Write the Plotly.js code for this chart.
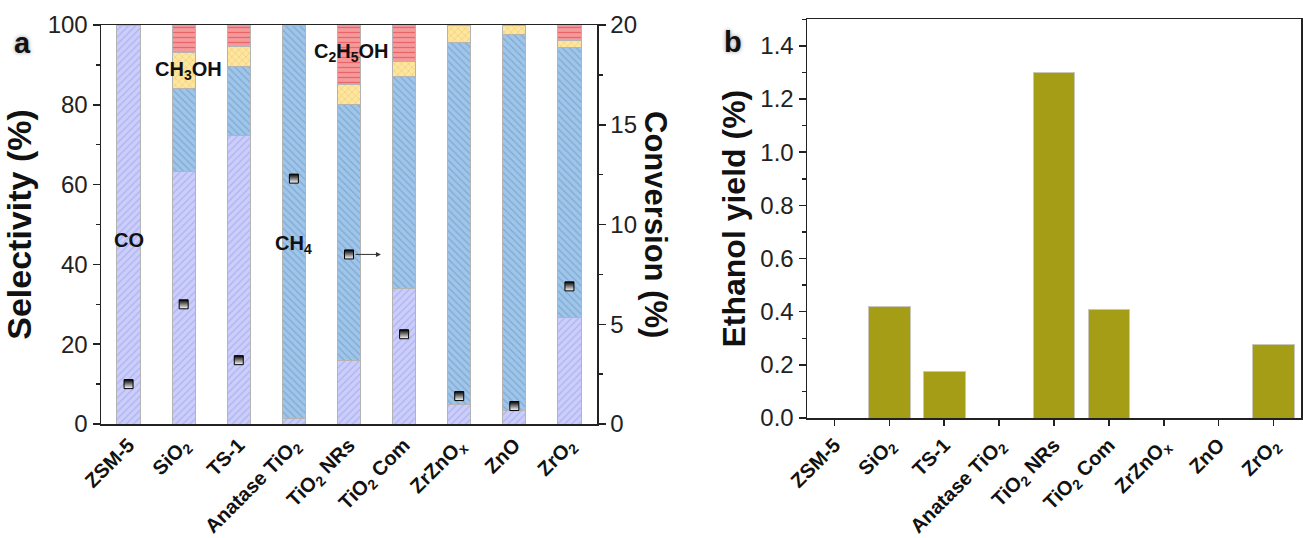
<!DOCTYPE html>
<html>
<head>
<meta charset="utf-8">
<script src="https://cdn.plot.ly/plotly-3.0.1.min.js"></script>
<style>html,body{margin:0;padding:0;background:#fff;}#chart{width:1303px;height:538px;}</style>
</head>
<body>
<div id="chart"></div>
<script>
// ---- data ----
const categories = ['ZSM-5','SiO<sub>2</sub>','TS-1','Anatase TiO<sub>2</sub>','TiO<sub>2</sub> NRs','TiO<sub>2</sub> Com','ZrZnO<sub>x</sub>','ZnO','ZrO<sub>2</sub>'];
const selCO     = [100, 63.2, 72.4, 1.5, 16.0, 34.0, 5.0, 3.5, 26.8];
const selCH4    = [0, 20.8, 17.1, 98.5, 64.0, 53.2, 90.5, 94.2, 67.5];
const selCH3OH  = [0, 9.0, 5.0, 0, 5.0, 3.6, 4.5, 2.3, 1.7];
const selC2H5OH = [0, 7.0, 5.5, 0, 15.0, 9.2, 0, 0, 4.0];
const conversion = [2.0, 6.0, 3.2, 12.3, 8.5, 4.5, 1.4, 0.9, 6.9];
const ethanolYield = [0, 0.42, 0.175, 0, 1.30, 0.41, 0, 0, 0.275];
const selTicks = [0, 20, 40, 60, 80, 100];
const convTicks = [0, 5, 10, 15, 20];
const yieldTicks = [0, 0.2, 0.4, 0.6, 0.8, 1.0, 1.2, 1.4];

const FONT = 'Liberation Sans, Arial, sans-serif';
const xIdx = categories.map((c,i)=>i);

function segTrace(name, vals, bg, fg, shape){
  return {type:'bar', name:name, x:xIdx, y:vals, xaxis:'x', yaxis:'y', width:0.42,
    marker:{color:bg, line:{color:'#b4b4b4', width:1},
      pattern:{shape:shape, fgcolor:fg, bgcolor:bg, size:5, solidity:0.25, fillmode:'replace'}},
    showlegend:false, hoverinfo:'skip'};
}

const traces = [
  segTrace('CO', selCO, '#cbcdfb', '#aeb3ef', '/'),
  segTrace('CH4', selCH4, '#9fc5e8', '#7fa9d6', '\\'),
  segTrace('CH3OH', selCH3OH, '#fde6a2', '#f2cd6d', 'x'),
  segTrace('C2H5OH', selC2H5OH, '#f59a9b', '#ea6468', '-'),
  {type:'scatter', mode:'markers', x:xIdx, y:conversion, xaxis:'x', yaxis:'y2',
    marker:{symbol:'square', size:9, color:'#000', line:{color:'#000', width:1},
      gradient:{type:'vertical', color:'#ffffff'}},
    showlegend:false, hoverinfo:'skip'},
  {type:'bar', x:xIdx, y:ethanolYield, xaxis:'x2', yaxis:'y3', width:0.76,
    marker:{color:'#a69d17', line:{color:'#c8c8b8', width:1}}, showlegend:false, hoverinfo:'skip'}
];

const axLine = {showline:true, linecolor:'#222', linewidth:1.5, showgrid:false, zeroline:false};
const tickNum = {family:FONT, size:24, color:'#222'};
const tickCat = {family:FONT, size:20, color:'#111', weight:'bold'};
const labFont = {family:FONT, size:20, weight:'bold', color:'#111'};

const layout = {
  width:1303, height:538, margin:{l:0, r:0, t:0, b:0},
  paper_bgcolor:'#fff', plot_bgcolor:'rgba(0,0,0,0)',
  barmode:'stack', font:{family:FONT},
  xaxis: Object.assign({}, axLine, {domain:[101/1303, 597/1303], anchor:'y', range:[-0.5, 8.5],
    tickmode:'array', tickvals:xIdx, ticktext:categories, tickangle:-45, ticks:'', mirror:true,
    tickfont:tickCat}),
  yaxis: Object.assign({}, axLine, {domain:[114/538, 513/538], anchor:'x', range:[0, 100],
    tickmode:'array', tickvals:selTicks, ticks:'outside', ticklen:7, tickwidth:1.5, tickcolor:'#222',
    minor:{dtick:10, ticks:'outside', ticklen:4, tickwidth:1.5, tickcolor:'#222'},
    tickfont:tickNum,
    title:{text:'Selectivity (%)', font:{family:FONT, size:34, weight:'bold', color:'#111'}, standoff:7}}),
  yaxis2: Object.assign({}, axLine, {overlaying:'y', side:'right', anchor:'x', range:[0, 20],
    tickmode:'array', tickvals:convTicks, ticks:'outside', ticklen:7, tickwidth:1.5, tickcolor:'#222',
    minor:{dtick:2.5, ticks:'outside', ticklen:4, tickwidth:1.5, tickcolor:'#222'},
    tickfont:tickNum}),
  xaxis2: Object.assign({}, axLine, {domain:[807/1303, 1301/1303], anchor:'y3', range:[-0.5, 8.5],
    tickmode:'array', tickvals:xIdx, ticktext:categories, tickangle:-45, ticks:'outside', ticklen:6,
    tickwidth:1.5, tickcolor:'#222', mirror:true, tickfont:tickCat}),
  yaxis3: Object.assign({}, axLine, {domain:[120/538, 518.7/538], anchor:'x2', range:[0, 1.5],
    tickmode:'array', tickvals:yieldTicks, tickformat:'.1f', ticks:'outside', ticklen:7, tickwidth:1.5,
    tickcolor:'#222', mirror:true,
    minor:{dtick:0.1, ticks:'outside', ticklen:4, tickwidth:1.5, tickcolor:'#222'},
    tickfont:tickNum,
    title:{text:'Ethanol yield (%)', font:{family:FONT, size:32, weight:'bold', color:'#111'}, standoff:5}}),
  annotations: [
    {xref:'x', yref:'y', x:0, y:46, text:'CO', showarrow:false, font:labFont},
    {xref:'x', yref:'y', x:1.08, y:88.5, text:'CH<sub>3</sub>OH', showarrow:false, font:labFont},
    {xref:'x', yref:'y', x:3.0, y:45, text:'CH<sub>4</sub>', showarrow:false, font:labFont},
    {xref:'x', yref:'y', x:4.05, y:93, text:'C<sub>2</sub>H<sub>5</sub>OH', showarrow:false, font:labFont},
    {xref:'x', yref:'y2', x:4.58, y:8.5, ax:-27, ay:0, axref:'pixel', ayref:'pixel', text:'', showarrow:true,
      arrowhead:2, arrowsize:1, arrowwidth:1, arrowcolor:'#333'},
    {xref:'paper', yref:'paper', x:656/1303, y:(538-224)/538, text:'Conversion (%)', textangle:90, showarrow:false,
      xanchor:'center', yanchor:'middle', font:{family:FONT, size:31, weight:'bold', color:'#111'}},
    {xref:'paper', yref:'paper', x:22/1303, y:(538-43)/538, text:'a', showarrow:false, xanchor:'center', yanchor:'middle',
      font:{family:FONT, size:29, weight:'bold', color:'#111', shadow:'0px 0px 4px #999'}},
    {xref:'paper', yref:'paper', x:733/1303, y:(538-42)/538, text:'b', showarrow:false, xanchor:'center', yanchor:'middle',
      font:{family:FONT, size:29, weight:'bold', color:'#111', shadow:'0px 0px 4px #999'}}
  ]
};

Plotly.newPlot('chart', traces, layout, {staticPlot:true, displayModeBar:false});
</script>
</body>
</html>
